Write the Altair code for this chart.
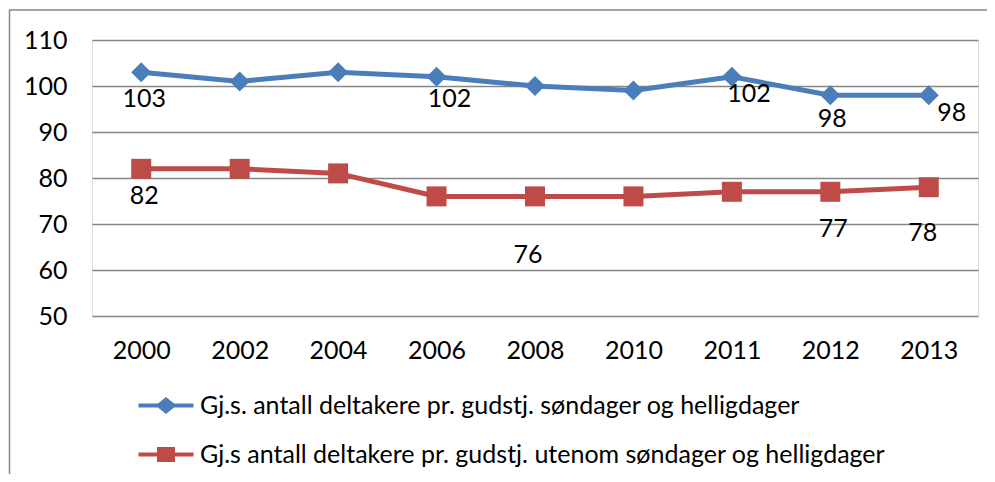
import altair as alt
import pandas as pd

years = ["2000", "2002", "2004", "2006", "2008", "2010", "2011", "2012", "2013"]
sunday = [103, 101, 103, 102, 100, 99, 102, 98, 98]
other = [82, 82, 81, 76, 76, 76, 77, 77, 78]
name_sun = "Gj.s. antall deltakere pr. gudstj. søndager og helligdager"
name_oth = "Gj.s antall deltakere pr. gudstj. utenom søndager og helligdager"
y_ticks = [50, 60, 70, 80, 90, 100, 110]

BLUE = "#4A7EBB"
RED = "#BE4B48"
GRID = "#868686"
FONT = "Lato"
FS = 25

df = pd.DataFrame(
    {
        "year": years * 2,
        "value": sunday + other,
        "series": [name_sun] * len(years) + [name_oth] * len(years),
    }
)

x_enc = alt.X(
    "year:N",
    sort=years,
    scale=alt.Scale(type="point", padding=0.5),
    axis=alt.Axis(
        title=None, labelAngle=0, ticks=False, tickSize=0, domain=False, grid=False,
        labelFont=FONT, labelFontSize=FS, labelColor="black",
        labelBaseline="middle", labelPadding=34,
    ),
)
y_enc = alt.Y(
    "value:Q",
    scale=alt.Scale(domain=[50, 110], nice=False, zero=False),
    axis=alt.Axis(
        title=None, values=y_ticks, ticks=False, tickSize=0, domain=False,
        grid=True, gridColor=GRID, gridWidth=1.5,
        labelFont=FONT, labelFontSize=FS, labelColor="black", labelPadding=25,
    ),
)

base = alt.Chart(df)

border = alt.Chart(pd.DataFrame({"a": [0]})).mark_rect(
    fill=None, stroke=GRID, strokeWidth=1.5
).encode(
    x=alt.value(-82.5), x2=alt.value(1200), y=alt.value(-30), y2=alt.value(800)
)

line_sun = base.transform_filter(alt.datum.series == name_sun).mark_line(
    color=BLUE, strokeWidth=5
).encode(x=x_enc, y=y_enc)
line_oth = base.transform_filter(alt.datum.series == name_oth).mark_line(
    color=RED, strokeWidth=5
).encode(x=x_enc, y=y_enc)
pts_sun = base.transform_filter(alt.datum.series == name_sun).mark_point(
    shape="diamond", filled=True, color=BLUE, size=400, opacity=1
).encode(x=x_enc, y=y_enc)
pts_oth = base.transform_filter(alt.datum.series == name_oth).mark_point(
    shape="square", filled=True, color=RED, size=400, opacity=1
).encode(x=x_enc, y=y_enc)


def label(series, year, dx, dy):
    return base.transform_filter(
        (alt.datum.series == series) & (alt.datum.year == year)
    ).mark_text(
        font=FONT, fontSize=FS, color="black", dx=dx, dy=dy, baseline="middle", align="center"
    ).encode(x=x_enc, y=y_enc, text="value:Q")


labels = [
    label(name_sun, "2000", 3, 27),
    label(name_sun, "2006", 13, 22),
    label(name_sun, "2011", 17, 17),
    label(name_sun, "2012", 2, 24),
    label(name_sun, "2013", 23, 18),
    label(name_oth, "2000", 3, 27),
    label(name_oth, "2008", -7, 59),
    label(name_oth, "2012", 3, 37),
    label(name_oth, "2013", -6, 46),
]

blue_path = "M-2.75,-0.2H2.75V0.2H-2.75Z M-1.05,0L0,-0.85L1.05,0L0,0.85Z"
red_path = "M-2.75,-0.2H2.75V0.2H-2.75Z M-0.9,-0.75H0.9V0.75H-0.9Z"

legend_props = dict(
    title=None, orient="none", legendX=61.5, legendY=353, direction="vertical",
    labelFont=FONT, labelFontSize=FS, labelColor="black", labelLimit=900,
    labelOffset=21.5, rowPadding=23, padding=0, symbolSize=400,
    symbolOpacity=1, symbolStrokeWidth=0,
)

legend_layer = base.transform_filter("false").mark_point(filled=True, size=400).encode(
    x=x_enc,
    y=y_enc,
    color=alt.Color(
        "series:N",
        scale=alt.Scale(domain=[name_sun, name_oth], range=[BLUE, RED]),
        legend=alt.Legend(**legend_props),
    ),
    shape=alt.Shape(
        "series:N",
        scale=alt.Scale(domain=[name_sun, name_oth], range=[blue_path, red_path]),
        legend=alt.Legend(**legend_props),
    ),
)

chart = alt.layer(
    border, line_sun, line_oth, pts_sun, pts_oth, legend_layer, *labels
).properties(
    width=886,
    height=276,
    padding={"left": 84, "top": 32, "right": 9, "bottom": 158},
    autosize=alt.AutoSizeParams(type="none"),
).configure_view(stroke=None).configure(background="white")

chart.save("out.html", embed_options={"renderer": "svg", "actions": False})
